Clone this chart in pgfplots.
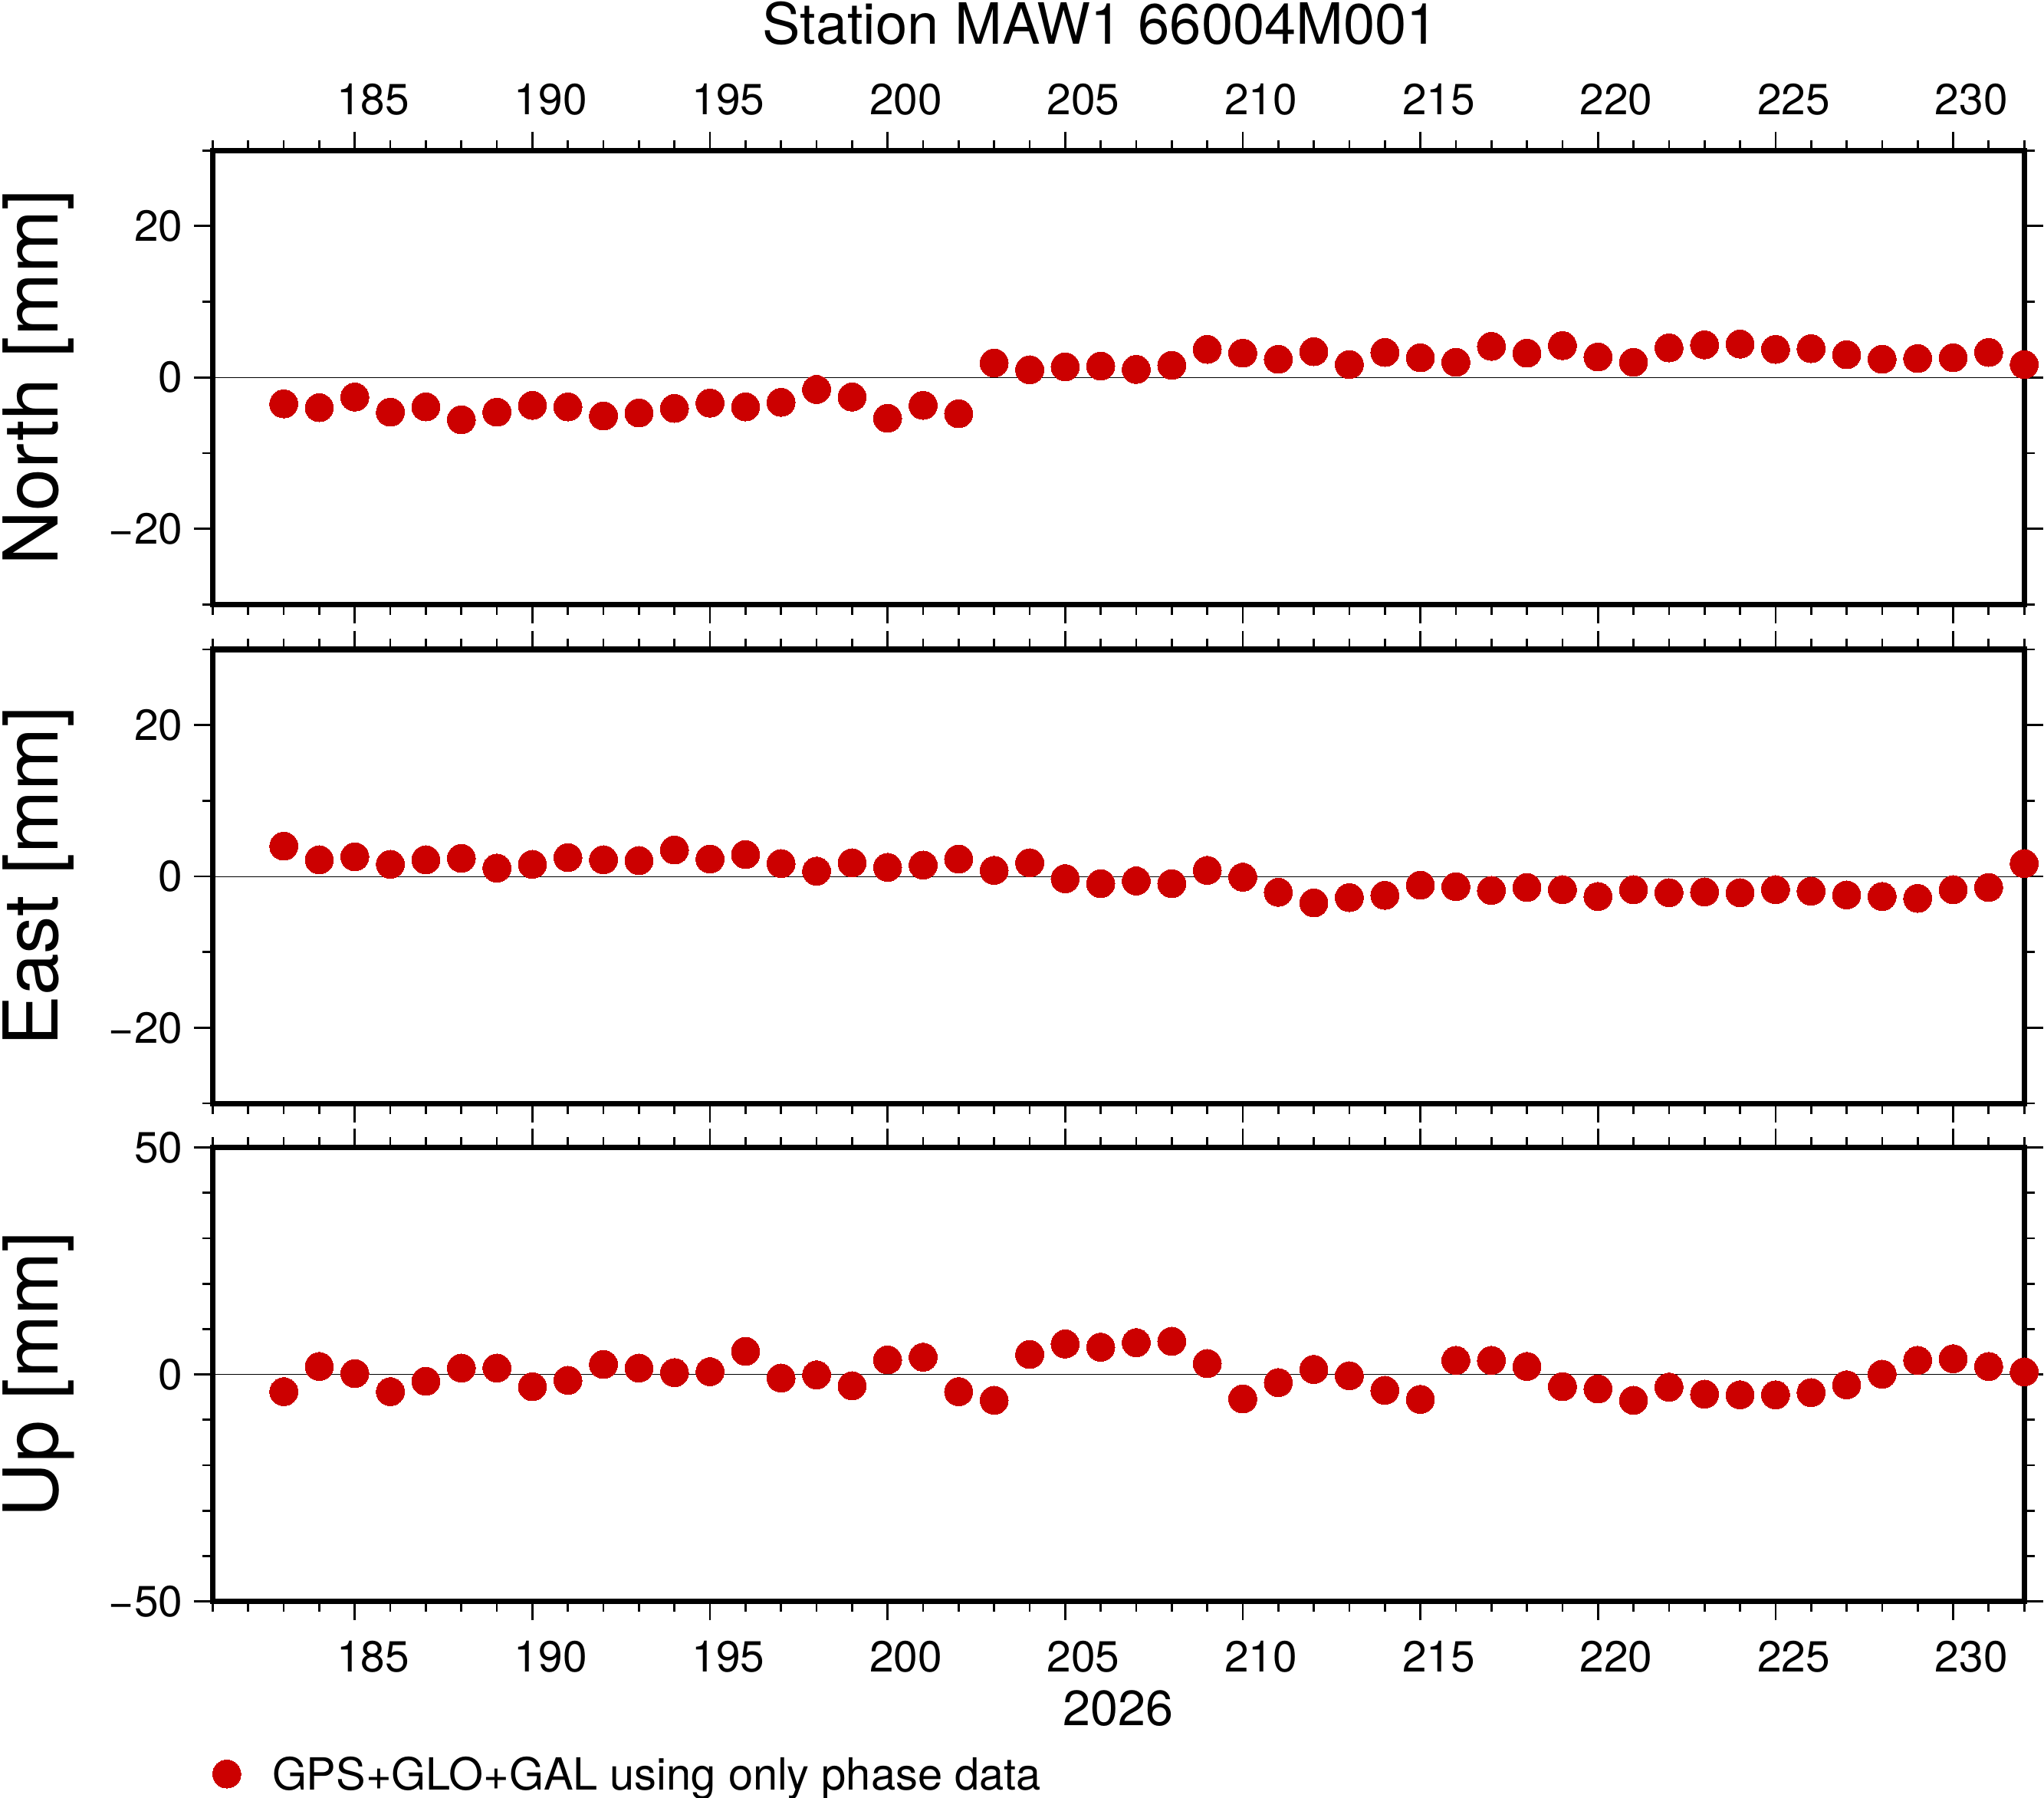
\documentclass[border=0pt]{standalone}
\usepackage{fontspec}
\setmainfont{TeX Gyre Heros}
\usepackage{pgfplots}
\usepackage{pgfplotstable}
\pgfplotsset{compat=1.18}
\definecolor{gpsred}{RGB}{204,0,0}

\pgfplotstableread{
day north east up
183 -3.5 4.0 -3.8
184 -4.0 2.2 1.75
185 -2.6 2.6 0.2
186 -4.6 1.6 -3.8
187 -3.9 2.2 -1.5
188 -5.6 2.4 1.4
189 -4.6 1.1 1.4
190 -3.7 1.6 -2.7
191 -3.9 2.5 -1.3
192 -5.1 2.2 2.2
193 -4.7 2.1 1.4
194 -4.1 3.5 0.4
195 -3.4 2.3 0.6
196 -3.9 2.9 5.1
197 -3.3 1.7 -0.8
198 -1.6 0.7 -0.1
199 -2.6 1.8 -2.5
200 -5.4 1.2 3.2
201 -3.7 1.5 3.8
202 -4.8 2.3 -3.8
203 1.9 0.8 -5.7
204 1.0 1.8 4.4
205 1.4 -0.3 6.7
206 1.5 -0.95 6.0
207 1.05 -0.6 7.0
208 1.6 -0.95 7.3
209 3.7 0.8 2.4
210 3.2 -0.1 -5.4
211 2.4 -2.1 -1.8
212 3.4 -3.5 1.1
213 1.7 -2.8 -0.3
214 3.3 -2.5 -3.5
215 2.6 -1.15 -5.5
216 2.0 -1.35 3.1
217 4.1 -1.85 3.1
218 3.2 -1.45 1.75
219 4.2 -1.75 -2.7
220 2.7 -2.65 -3.2
221 2.0 -1.75 -5.7
222 3.9 -2.15 -2.8
223 4.3 -2.05 -4.35
224 4.4 -2.15 -4.5
225 3.7 -1.75 -4.5
226 3.8 -1.95 -4.0
227 3.0 -2.45 -2.3
228 2.4 -2.65 0.05
229 2.5 -2.9 3.1
230 2.6 -1.75 3.45
231 3.3 -1.45 1.75
232 1.7 1.7 0.55
}\enudata

\pgfplotsset{
  panel/.style={
    scale only axis, width=694.8pt, height=174.1pt,
    xmin=181, xmax=232,
    xtick={185,190,...,230},
    minor xtick={181,...,232},
    tick align=outside,
    major tick length=7.2pt, minor tick length=4pt,
    tick style={black, line width=0.8pt},
    axis line style={line width=2.1pt},
    tick label style={font=\fontsize{16.7}{20}\selectfont},
    /pgf/number format/assume math mode=true,
    /pgf/number format/1000 sep={},
    clip=false,
    every axis y label/.style={at={([xshift=-59.4pt]axis description cs:0,0.5)}, rotate=90, anchor=base, font=\fontsize{29}{34}\selectfont},
    yticklabel style={xshift=-0.8pt},
  },
  dots/.style={only marks, mark=*, mark size=5.4pt, color=gpsred, mark options={draw=gpsred, fill=gpsred, line width=0pt}},
  zero/.style={black, line width=0.3pt, mark=none, forget plot},
}

\begin{document}
\begin{tikzpicture}
\useasboundingbox (-81.6pt,-75.4pt) rectangle (702.4pt,614.2pt);

\begin{axis}[panel, at={(0pt,382.4pt)}, anchor=south west,
  ymin=-30, ymax=30, ytick={-20,0,20}, yticklabels={−20,0,20},
  minor ytick={-30,-10,10,30},
  xticklabel pos=upper, xticklabel style={xshift=7pt, yshift=2.7pt},
  ylabel={North [mm]},
  title={Station MAW1 66004M001},
  every axis title/.style={at={(axis description cs:0.5,1)}, anchor=base, yshift=40.9pt, xshift=-6.9pt, font=\fontsize{21.8}{26}\selectfont},
]
\addplot[zero] coordinates {(181,0) (232,0)};
\addplot[dots] table[x=day, y=north] {\enudata};
\end{axis}

\begin{axis}[panel, at={(0pt,191pt)}, anchor=south west,
  ymin=-30, ymax=30, ytick={-20,0,20}, yticklabels={−20,0,20},
  minor ytick={-30,-10,10,30},
  xticklabels={},
  ylabel={East [mm]},
]
\addplot[zero] coordinates {(181,0) (232,0)};
\addplot[dots] table[x=day, y=east] {\enudata};
\end{axis}

\begin{axis}[panel, at={(0pt,0pt)}, anchor=south west,
  ymin=-50, ymax=50, ytick={-50,0,50}, yticklabels={−50,0,50},
  minor ytick={-40,-30,...,40},
  xticklabel pos=lower, xticklabel style={xshift=7pt, yshift=-4.4pt},
  ylabel={Up [mm]},
  xlabel={2026},
  every axis x label/.style={at={(axis description cs:0.5,0)}, anchor=base, yshift=-47.6pt, font=\fontsize{19}{23}\selectfont},
  legend style={draw=none, fill=none, inner sep=0pt, outer sep=0pt,
    at={([xshift=-0.2pt, yshift=-66.6pt]axis description cs:0,0)}, anchor=west,
    cells={anchor=base west},
    nodes={inner sep=0pt, font=\fontsize{17}{20}\selectfont},
    /tikz/column sep=0pt},
  legend image code/.code={\draw[#1] plot coordinates {(0pt,6pt)}; \path (-5.4pt,0pt) (17.2pt,0pt);},
]
\addplot[zero] coordinates {(181,0) (232,0)};
\addplot[dots] table[x=day, y=up] {\enudata};
\addlegendentry{GPS+GLO+GAL using only phase data}
\end{axis}
\end{tikzpicture}
\end{document}
